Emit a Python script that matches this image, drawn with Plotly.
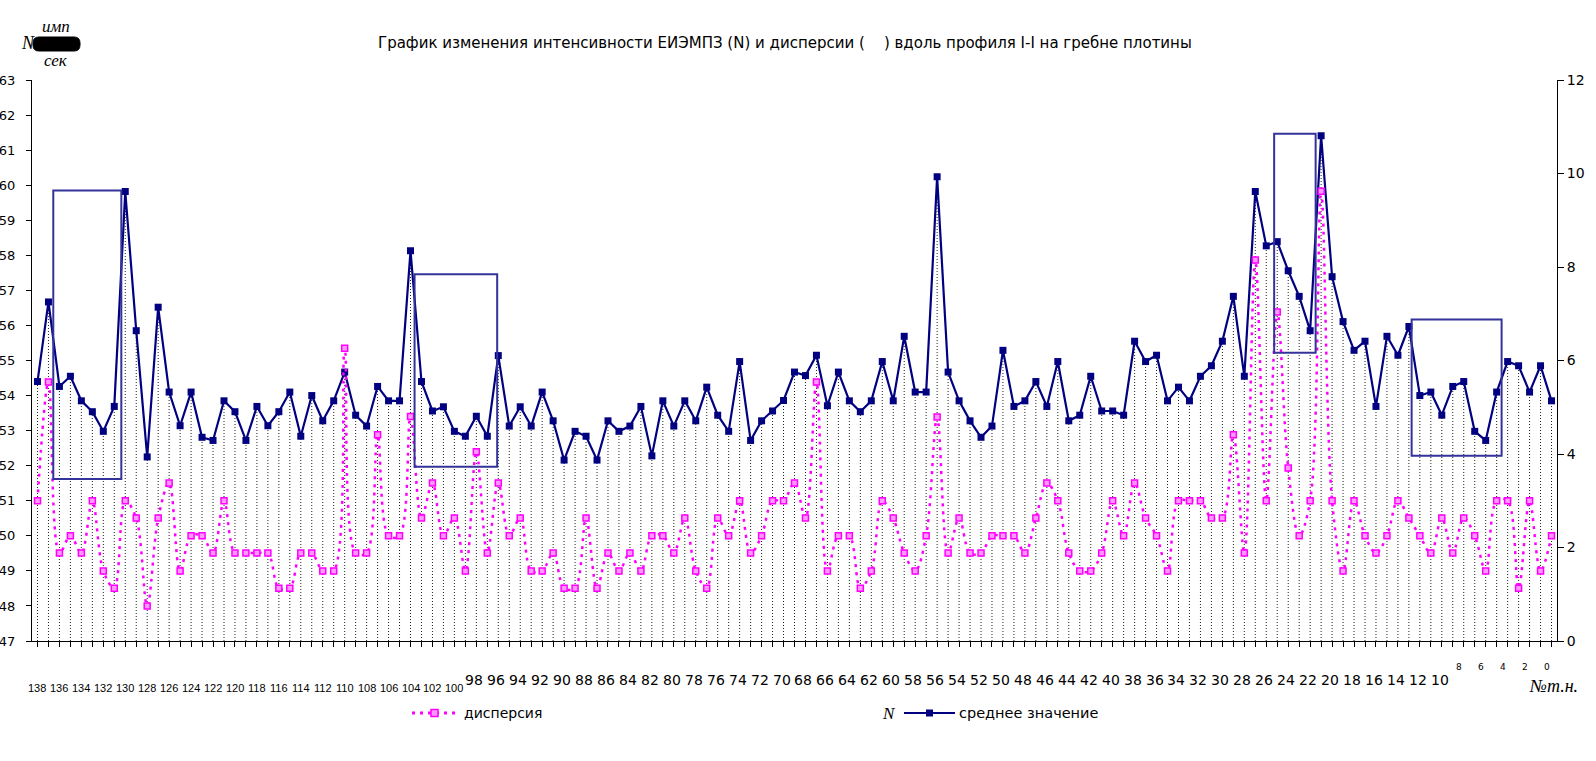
import plotly.graph_objects as go

# ---------------- data ----------------
points = list(range(138, -1, -1))  # № т.н. (profile points)

n_mean = [
    54.4, 56.67, 54.26, 54.55, 53.85, 53.54, 52.98, 53.69, 59.82, 55.85,   # 138-129
    52.25, 56.52, 54.1, 53.14, 54.1, 52.81, 52.72, 53.85, 53.54, 52.72,    # 128-119
    53.69, 53.14, 53.54, 54.1, 52.84, 54.0, 53.28, 53.85, 54.67, 53.44,    # 118-109
    53.13, 54.26, 53.85, 53.85, 58.13, 54.4, 53.56, 53.68, 52.98, 52.84,   # 108-99
    53.41, 52.84, 55.14, 53.13, 53.68, 53.13, 54.1, 53.28, 52.16, 52.98,   # 98-89
    52.84, 52.16, 53.28, 52.98, 53.13, 53.69, 52.28, 53.85, 53.13, 53.85,  # 88-79
    53.28, 54.24, 53.44, 52.98, 54.97, 52.72, 53.28, 53.56, 53.86, 54.67,  # 78-69
    54.57, 55.15, 53.71, 54.67, 53.85, 53.54, 53.85, 54.97, 53.85, 55.69,  # 68-59
    54.1, 54.1, 60.24, 54.67, 53.85, 53.28, 52.81, 53.13, 55.29, 53.69,    # 58-49
    53.85, 54.4, 53.69, 54.97, 53.28, 53.44, 54.55, 53.56, 53.56, 53.44,   # 48-39
    55.55, 54.97, 55.15, 53.85, 54.24, 53.85, 54.55, 54.85, 55.55, 56.83,  # 38-29
    54.55, 59.82, 58.27, 58.39, 57.56, 56.83, 55.85, 61.41, 57.39, 56.11,  # 28-19
    55.29, 55.55, 53.69, 55.69, 55.15, 55.97, 54.0, 54.1, 53.44, 54.26,    # 18-9
    54.4, 52.98, 52.72, 54.1, 54.97, 54.85, 54.1, 54.85, 53.85,            # 8-0
]

dispersion = [
    3.0, 5.54, 1.88, 2.25, 1.88, 3.0, 1.5, 1.13, 3.0, 2.63,        # 138-129
    0.75, 2.63, 3.38, 1.5, 2.25, 2.25, 1.88, 3.0, 1.88, 1.88,      # 128-119
    1.88, 1.88, 1.13, 1.13, 1.88, 1.88, 1.5, 1.5, 6.26, 1.88,      # 118-109
    1.88, 4.41, 2.25, 2.25, 4.8, 2.63, 3.38, 2.25, 2.63, 1.5,      # 108-99
    4.05, 1.88, 3.38, 2.25, 2.63, 1.5, 1.5, 1.88, 1.13, 1.13,      # 98-89
    2.63, 1.13, 1.88, 1.5, 1.88, 1.5, 2.25, 2.25, 1.88, 2.63,      # 88-79
    1.5, 1.13, 2.63, 2.25, 3.0, 1.88, 2.25, 3.0, 3.0, 3.38,        # 78-69
    2.63, 5.54, 1.5, 2.25, 2.25, 1.13, 1.5, 3.0, 2.63, 1.88,       # 68-59
    1.5, 2.25, 4.79, 1.88, 2.63, 1.88, 1.88, 2.25, 2.25, 2.25,     # 58-49
    1.88, 2.63, 3.38, 3.0, 1.88, 1.5, 1.5, 1.88, 3.0, 2.25,        # 48-39
    3.38, 2.63, 2.25, 1.5, 3.0, 3.0, 3.0, 2.63, 2.63, 4.41,        # 38-29
    1.88, 8.15, 3.0, 7.04, 3.7, 2.25, 3.0, 9.62, 3.0, 1.5,         # 28-19
    3.0, 2.25, 1.88, 2.25, 3.0, 2.63, 2.25, 1.88, 2.63, 1.88,      # 18-9
    2.63, 2.25, 1.5, 3.0, 3.0, 1.13, 3.0, 1.5, 2.25,               # 8-0
]

assert len(points) == len(n_mean) == len(dispersion)

tick_labels_narrow = list(range(138, 99, -2))   # 138 ... 100
tick_labels_normal = list(range(98, 9, -2))     # 98 ... 10
tick_labels_small = list(range(8, -1, -2))      # 8 ... 0

# highlighted zones: (x_from, x_to, N_low, N_high)
highlight_boxes = [
    (136.56, 130.36, 51.62, 59.85),
    (103.63, 96.1, 51.97, 57.46),
    (25.28, 21.5, 55.22, 61.47),
    (12.75, 4.55, 52.28, 56.17),
]

title_text = ("График изменения интенсивности ЕИЭМПЗ (N) и дисперсии (    ) "
              "вдоль профиля I-I на гребне плотины")

# ---------------- layout geometry ----------------
W, H = 1596, 761
L, R, T, B = 32, 39, 80, 120
PW, PH = W - L - R, H - T - B
Y_MIN, Y_MAX = 47, 63


def pxx(x):
    return (x - L) / PW


def pxy(y):
    return (H - B - y) / PH


BLUE = "#000080"
MAG = "#FF00FF"
BOXC = "#333399"
FONT = "DejaVu Sans"
SERIF = "Liberation Serif"

fig = go.Figure()

# drop lines from N series to the axis
dx, dy = [], []
for p, v in zip(points, n_mean):
    dx += [p, p, None]
    dy += [Y_MIN, v, None]
fig.add_trace(go.Scatter(x=dx, y=dy, mode="lines",
                         line=dict(color="#222222", width=1, dash="1px,2px"),
                         hoverinfo="skip", showlegend=False))

fig.add_trace(go.Scatter(x=points, y=n_mean, mode="lines+markers",
                         name="среднее значение",
                         line=dict(color=BLUE, width=2.2),
                         marker=dict(symbol="square", size=7, color=BLUE),
                         showlegend=False))

fig.add_trace(go.Scatter(x=points, y=dispersion, yaxis="y2", mode="lines+markers",
                         name="дисперсия",
                         line=dict(color=MAG, width=2.5, dash="3px,5px", shape="spline"),
                         marker=dict(symbol="square", size=6, color="#FF99FF",
                                     line=dict(color=MAG, width=1.5)),
                         showlegend=False))

shapes = []
for x0, x1, y0, y1 in highlight_boxes:
    shapes.append(dict(type="rect", xref="x", yref="y", x0=x0, x1=x1, y0=y0, y1=y1,
                       line=dict(color=BOXC, width=2), fillcolor="rgba(0,0,0,0)"))

# black rounded blob of unit label
bl, br, bt, bb, rad = 33, 80, 37, 51, 6
X0, X1, X2, X3 = pxx(bl), pxx(bl + rad), pxx(br - rad), pxx(br)
Y0, Y1, Y2, Y3 = pxy(bt), pxy(bt + rad), pxy(bb - rad), pxy(bb)
blob = (f"M {X1},{Y0} L {X2},{Y0} Q {X3},{Y0} {X3},{Y1} L {X3},{Y2} "
        f"Q {X3},{Y3} {X2},{Y3} L {X1},{Y3} Q {X0},{Y3} {X0},{Y2} "
        f"L {X0},{Y1} Q {X0},{Y0} {X1},{Y0} Z")
shapes.append(dict(type="path", xref="paper", yref="paper", path=blob, layer="below",
                   fillcolor="black", line=dict(color="black", width=1)))

# legend samples
shapes.append(dict(type="line", xref="paper", yref="paper", x0=pxx(412), x1=pxx(458),
                   y0=pxy(713), y1=pxy(713), line=dict(color=MAG, width=3, dash="3px,5px")))
shapes.append(dict(type="rect", xref="paper", yref="paper", x0=pxx(431), x1=pxx(438),
                   y0=pxy(716.5), y1=pxy(709.5), fillcolor="#FF99FF", line=dict(color=MAG, width=1.5)))
shapes.append(dict(type="line", xref="paper", yref="paper", x0=pxx(904), x1=pxx(955),
                   y0=pxy(713), y1=pxy(713), line=dict(color=BLUE, width=2)))
shapes.append(dict(type="rect", xref="paper", yref="paper", x0=pxx(926), x1=pxx(933),
                   y0=pxy(716.5), y1=pxy(709.5), fillcolor=BLUE, line=dict(color=BLUE, width=0)))

annotations = []


def label(x, y, text, size, family=FONT, xanchor="center", xref="paper", yref="paper",
          xshift=0, yshift=0):
    annotations.append(dict(x=x, y=y, xref=xref, yref=yref, text=text, showarrow=False,
                            xanchor=xanchor, yanchor="middle", xshift=xshift, yshift=yshift,
                            font=dict(family=family, size=size, color="black")))


# x tick labels
for v in tick_labels_narrow:
    label(v, 0, str(v), 11, family="Liberation Sans", xref="x", yshift=-47)
for v in tick_labels_normal:
    label(v, 0, str(v), 14, xref="x", xshift=-2, yshift=-39)
for v in tick_labels_small:
    label(v, 0, str(v), 9, xref="x", xshift=-5, yshift=-26)

label(pxx(1553), pxy(686), "<i>№т.н.</i>", 18, family=SERIF)

# title
label(pxx(785), pxy(43), title_text, 15)

# unit label N имп/сек
label(pxx(28), pxy(43), "<i>N</i>", 18, family=SERIF)
label(pxx(56), pxy(27), "<i>имп</i>", 17, family=SERIF)
label(pxx(56), pxy(60), "<i>сек</i>", 17, family=SERIF)

# legend texts
label(pxx(462), pxy(713), "дисперсия", 14, xanchor="left")
label(pxx(889), pxy(713), "<i>N</i>", 17, family=SERIF)
label(pxx(957), pxy(713), "среднее значение", 14.5, xanchor="left")

fig.update_layout(
    width=W, height=H,
    margin=dict(l=L, r=R, t=T, b=B, pad=0, autoexpand=False),
    paper_bgcolor="white", plot_bgcolor="white",
    font=dict(family=FONT, color="black"),
    showlegend=False,
    xaxis=dict(range=[138.5, -0.5], tickvals=points, showticklabels=False,
               ticks="outside", ticklen=5, tickcolor="black", tickwidth=1,
               showline=True, linecolor="black", linewidth=1,
               showgrid=False, zeroline=False, automargin=False),
    yaxis=dict(range=[Y_MIN, Y_MAX], dtick=1, tick0=47, ticks="outside", ticklen=5,
               tickcolor="black", showline=True, linecolor="black", linewidth=1,
               showgrid=False, zeroline=False, ticklabelstandoff=8, automargin=False,
               tickfont=dict(family=FONT, size=13, color="black")),
    yaxis2=dict(range=[0, 12], dtick=2, overlaying="y", side="right", ticks="outside",
                ticklen=6, tickcolor="black", showline=True, linecolor="black", linewidth=1,
                showgrid=False, zeroline=False, automargin=False,
                tickfont=dict(family=FONT, size=14, color="black")),
    shapes=shapes,
    annotations=annotations,
)

fig.write_html("out.html")
